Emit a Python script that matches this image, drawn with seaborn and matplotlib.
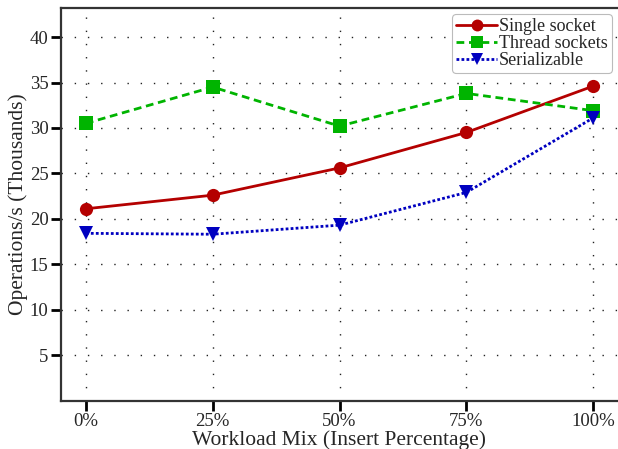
import matplotlib
matplotlib.use("Agg")
import matplotlib.pyplot as plt
import seaborn as sns
import pandas as pd

# Throughput (thousands of operations per second) by insert percentage
insert_pct = [0, 25, 50, 75, 100]
tick_labels = ["0%", "25%", "50%", "75%", "100%"]
single_socket = [21.1, 22.6, 25.6, 29.5, 34.6]
thread_sockets = [30.5, 34.5, 30.2, 33.8, 31.9]
serializable = [18.4, 18.3, 19.3, 22.9, 31.1]

series_names = ["Single socket", "Thread sockets", "Serializable"]
series_values = [single_socket, thread_sockets, serializable]

rows = []
for name, vals in zip(series_names, series_values):
    for x, v in zip(insert_pct, vals):
        rows.append({"Insert": x, "Ops": v, "Series": name})
df = pd.DataFrame(rows)

sns.set_theme(style="white")
plt.rcParams["font.family"] = ["Liberation Serif", "DejaVu Serif"]

fig = plt.figure(figsize=(6.18, 4.49), dpi=100)
ax = fig.add_axes([61 / 618, 1 - 400.5 / 449, 1 - 61 / 618, (400.5 - 8) / 449])

palette = {"Single socket": "#b40000", "Thread sockets": "#00b400", "Serializable": "#0000c0"}
markers = {"Single socket": "o", "Thread sockets": "s", "Serializable": "v"}
dashes = {"Single socket": "", "Thread sockets": (2.8, 1.7), "Serializable": (1.0, 0.8)}

sns.lineplot(data=df, x="Insert", y="Ops", hue="Series", style="Series",
             hue_order=series_names, style_order=series_names,
             palette=palette, markers=markers, dashes=dashes,
             linewidth=2.0, markersize=9.5, markeredgewidth=0,
             ax=ax, legend="full")

ax.set_xlim(-4.9, 104.9)
ax.set_ylim(0, 43.2)
ax.set_xticks(insert_pct)
ax.set_xticklabels(tick_labels)
ax.set_yticks([5, 10, 15, 20, 25, 30, 35, 40])

ax.grid(True, color="#222222", linestyle=(0, (1, 8.5)), linewidth=1.0)
ax.tick_params(axis="both", which="major", direction="out", length=7, width=2.0,
               color="black", labelsize=13.5, bottom=True, left=True, pad=2)
for side in ["left", "bottom", "top"]:
    ax.spines[side].set_color("#333333")
    ax.spines[side].set_linewidth(1.6)
ax.spines["right"].set_visible(False)

ax.set_xlabel("Workload Mix (Insert Percentage)", fontsize=15.5, labelpad=0)
ax.set_ylabel("Operations/s (Thousands)", fontsize=15.5, labelpad=1)

leg = ax.legend(loc="upper right", bbox_to_anchor=(0.995, 0.993), fontsize=13,
                frameon=True, fancybox=True, handlelength=2.3, handletextpad=0.1,
                borderpad=0.2, labelspacing=0.0, borderaxespad=0.2,
                markerscale=0.9)
leg.get_frame().set_edgecolor("#bbbbbb")
leg.get_frame().set_linewidth(0.8)
leg.get_frame().set_alpha(1.0)

fig.savefig("out.png", dpi=100)
